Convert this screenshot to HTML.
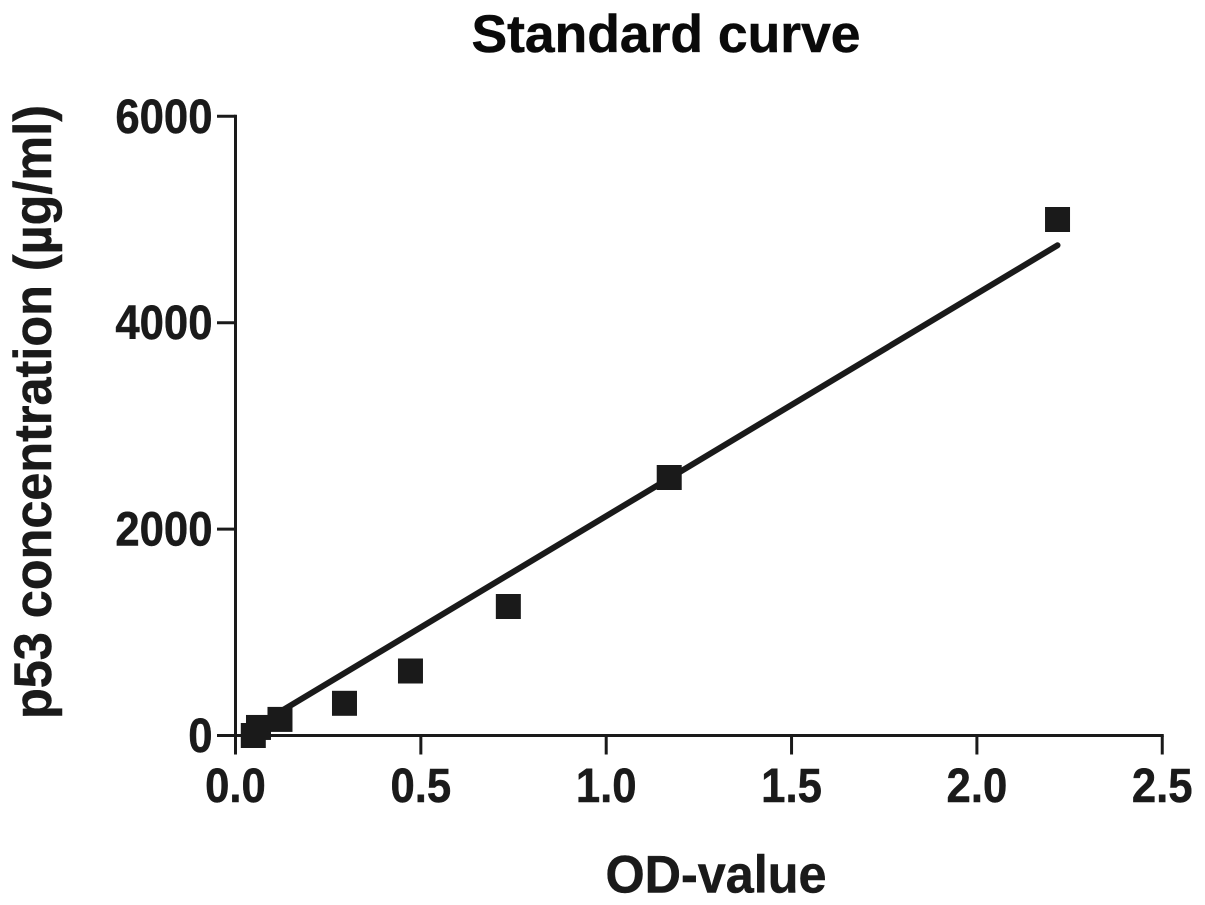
<!DOCTYPE html>
<html>
<head>
<meta charset="utf-8">
<title>Standard curve</title>
<style>
html,body{margin:0;padding:0;background:#fff;width:1205px;height:905px;overflow:hidden}
svg{display:block}
text{font-family:"Liberation Sans",sans-serif;font-weight:bold;fill:#1a1a1a;stroke:#1a1a1a;stroke-width:0.5px}
</style>
</head>
<body>
<svg id="chart" width="1205" height="905" viewBox="0 0 1205 905" xmlns="http://www.w3.org/2000/svg">
<text x="666" y="52" font-size="53" text-anchor="middle" textLength="389" lengthAdjust="spacingAndGlyphs" style="fill:#0a0a0a;stroke:#0a0a0a">Standard curve</text>
<text x="716" y="892.5" font-size="53" text-anchor="middle" textLength="221" lengthAdjust="spacingAndGlyphs">OD-value</text>
<text transform="translate(51,412) rotate(-90)" font-size="53" text-anchor="middle" textLength="614" lengthAdjust="spacingAndGlyphs">p53 concentration (µg/ml)</text>
<g id="axes"></g>
<g id="fit"></g>
<g id="points"></g>
</svg>
<script>
const xTicks = [0, 0.5, 1, 1.5, 2, 2.5];
const xTickLabels = ['0.0', '0.5', '1.0', '1.5', '2.0', '2.5'];
const yTicks = [0, 2000, 4000, 6000];
const yTickLabels = ['0', '2000', '4000', '6000'];
const odValues = [0.048, 0.062, 0.12, 0.294, 0.472, 0.736, 1.17, 2.2175];
const concentrations = [0, 78, 156, 312, 625, 1250, 2500, 5000];
const fitX = [0.06, 2.2175];
const fitY = [100, 4750];

const NS = 'http://www.w3.org/2000/svg';
const sx = v => 235.5 + v * 370.7;
const sy = v => 735.5 - v * 0.1032;
const ink = '#1a1a1a';

function make(tag, attrs, parent, text) {
  const el = document.createElementNS(NS, tag);
  for (const k in attrs) el.setAttribute(k, attrs[k]);
  if (text !== undefined) el.textContent = text;
  parent.appendChild(el);
  return el;
}

function condense(label) {
  label.setAttribute('textLength', label.getComputedTextLength() * 0.91);
  label.setAttribute('lengthAdjust', 'spacingAndGlyphs');
}

const axes = document.getElementById('axes');
const xAxis = make('line', {x1: sx(0), y1: sy(0), x2: sx(2.5) + 1.5, y2: sy(0), stroke: ink, 'stroke-width': 3}, axes);


const yAxis = make('line', {x1: sx(0), y1: sy(0) + 19, x2: sx(0), y2: sy(6000) - 1.5, stroke: ink, 'stroke-width': 3}, axes);



xTicks.forEach((t, i) => {
  const tick = make('line', {x1: sx(t), y1: sy(0), x2: sx(t), y2: sy(0) + 19, stroke: ink, 'stroke-width': 3}, axes);
  
  
  const label = make('text', {x: sx(t), y: 802, 'font-size': 48, 'text-anchor': 'middle'}, axes, xTickLabels[i]);
  
  
  condense(label);
});

yTicks.forEach((t, i) => {
  const tick = make('line', {x1: sx(0) - 18.5, y1: sy(t), x2: sx(0), y2: sy(t), stroke: ink, 'stroke-width': 3}, axes);
  
  
  const label = make('text', {x: 212.5, y: sy(t) + 16.5, 'font-size': 48, 'text-anchor': 'end'}, axes, yTickLabels[i]);
  
  
  condense(label);
});

const fit = make('line', {x1: sx(fitX[0]), y1: sy(fitY[0]), x2: sx(fitX[1]), y2: sy(fitY[1]), stroke: ink, 'stroke-width': 6, 'stroke-linecap': 'round'}, document.getElementById('fit'));



const points = document.getElementById('points');
odValues.forEach((od, i) => {
  const size = 25;
  const marker = make('rect', {x: sx(od) - size / 2, y: sy(concentrations[i]) - size / 2, width: size, height: size, fill: ink}, points);
  
  
});
</script>
</body>
</html>
